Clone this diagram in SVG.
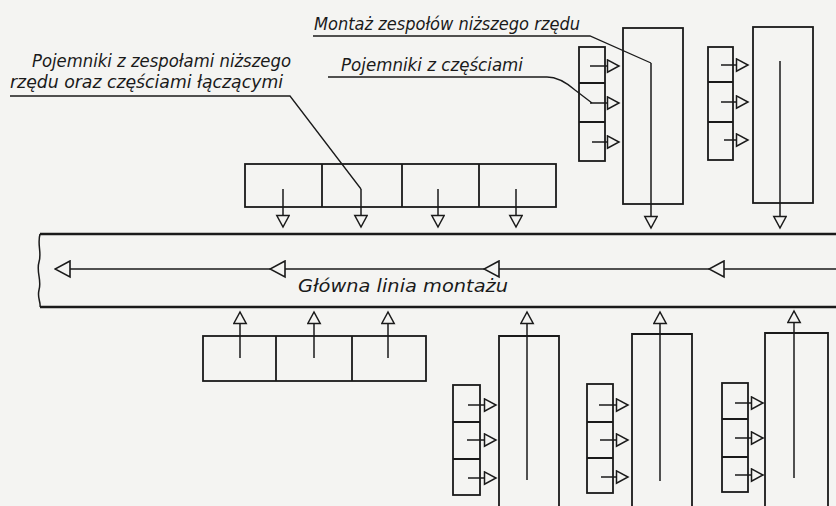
<svg xmlns="http://www.w3.org/2000/svg" width="836" height="506" viewBox="0 0 836 506">
<defs>
<marker id="tri" markerUnits="userSpaceOnUse" markerWidth="16" markerHeight="16" refX="13" refY="7" orient="auto">
<path d="M1.5,0.8 L13,7 L1.5,13.2 Z" fill="#f4f4f2" stroke="#1a1a1a" stroke-width="1.5"/>
</marker>
<marker id="triBig" markerUnits="userSpaceOnUse" markerWidth="20" markerHeight="20" refX="1" refY="9" orient="auto">
<path d="M16,1 L1,9 L16,17 Z" fill="#f4f4f2" stroke="#1a1a1a" stroke-width="1.6"/>
</marker>
</defs>
<style>
.box{fill:none;stroke:#1a1a1a;stroke-width:1.8}
.edge{fill:none;stroke:#1a1a1a;stroke-width:2.3}
.ln{fill:none;stroke:#1a1a1a;stroke-width:1.5}
.arr{fill:none;stroke:#1a1a1a;stroke-width:1.5;marker-end:url(#tri)}
.flow{fill:none;stroke:#1a1a1a;stroke-width:1.6;marker-start:url(#triBig)}
.lead{fill:none;stroke:#1a1a1a;stroke-width:1.3}
.lbl{font-family:"DejaVu Sans",sans-serif;font-style:italic;font-size:17px;fill:#1a1a1a}
</style>
<rect width="836" height="506" fill="#f4f4f2"/>

<g id="main-line">
<path class="edge" d="M836,234 H40 M836,307 H40"/>
<path class="ln" d="M40,234 C37,245 42,252 39,262 C36,272 42,280 39,290 C37,298 41,302 40,307" stroke-width="1"/>
<text class="lbl" x="298" y="292" textLength="210" lengthAdjust="spacingAndGlyphs">Główna linia montażu</text>
</g>

<g id="upper-containers">
<rect class="box" x="245" y="164" width="311" height="43"/>
<path class="box" d="M322,164 V207 M402,164 V207 M479,164 V207"/>
</g>

<g id="upper-assembly-1">
<rect class="box" x="623" y="28" width="60" height="176"/>
<rect class="box" x="579" y="47" width="26" height="114"/>
<path class="box" d="M579,83 H605 M579,122 H605"/>
</g>

<g id="upper-assembly-2">
<rect class="box" x="753" y="27" width="60" height="176"/>
<rect class="box" x="708" y="47" width="25" height="113"/>
<path class="box" d="M708,82 H733 M708,122 H733"/>
</g>

<g id="lower-containers">
<rect class="box" x="203" y="336" width="223" height="45"/>
<path class="box" d="M276,336 V381 M352,336 V381"/>
</g>

<g id="lower-assembly-1">
<path class="box" d="M499,510 V336 H559 V510"/>
<rect class="box" x="453" y="385" width="27" height="110"/>
<path class="box" d="M453,422 H480 M453,459 H480"/>
</g>

<g id="lower-assembly-2">
<path class="box" d="M632,510 V334 H692 V510"/>
<rect class="box" x="587" y="384" width="26" height="109"/>
<path class="box" d="M587,422 H613 M587,458 H613"/>
</g>

<g id="lower-assembly-3">
<path class="box" d="M765,510 V333 H828 V510"/>
<rect class="box" x="722" y="383" width="26" height="109"/>
<path class="box" d="M722,419 H748 M722,457 H748"/>
</g>

<g id="labels">
<text class="lbl" x="314" y="30" textLength="266" lengthAdjust="spacingAndGlyphs">Montaż zespołów niższego rzędu</text>
<text class="lbl" x="341" y="71" textLength="182" lengthAdjust="spacingAndGlyphs">Pojemniki z częściami</text>
<text class="lbl" x="32" y="67" textLength="259" lengthAdjust="spacingAndGlyphs">Pojemniki z zespołami niższego</text>
<text class="lbl" x="10" y="88" textLength="273" lengthAdjust="spacingAndGlyphs">rzędu oraz częściami łączącymi</text>
</g>

<g id="connectors">
<!-- main flow (arrowheads at segment start, pointing left) -->
<path class="flow" d="M55,269 H270"/>
<path class="flow" d="M270,269 H484"/>
<path class="flow" d="M484,269 H709"/>
<path class="flow" d="M709,269 H836"/>
<!-- upper containers down -->
<path class="arr" d="M283,189 V227"/>
<path class="arr" d="M361,189 V227"/>
<path class="arr" d="M438,189 V227"/>
<path class="arr" d="M516,189 V227"/>
<!-- upper assembly 1 -->
<path class="arr" d="M651,63 V228"/>
<path class="arr" d="M590,66 H619"/>
<path class="arr" d="M590,103 H619"/>
<path class="arr" d="M592,142 H619"/>
<!-- upper assembly 2 -->
<path class="arr" d="M780,61 V228"/>
<path class="arr" d="M721,65 H748"/>
<path class="arr" d="M721,102 H748"/>
<path class="arr" d="M724,140 H748"/>
<!-- lower containers up -->
<path class="arr" d="M240,358 V312"/>
<path class="arr" d="M314,358 V312"/>
<path class="arr" d="M388,358 V312"/>
<!-- lower assemblies -->
<path class="arr" d="M527,480 V312"/>
<path class="arr" d="M468,405 H496"/>
<path class="arr" d="M467,440 H496"/>
<path class="arr" d="M468,478 H496"/>
<path class="arr" d="M660,481 V312"/>
<path class="arr" d="M599,405 H628"/>
<path class="arr" d="M600,440 H628"/>
<path class="arr" d="M601,477 H628"/>
<path class="arr" d="M794,478 V311"/>
<path class="arr" d="M735,403 H763"/>
<path class="arr" d="M735,438 H763"/>
<path class="arr" d="M735,475 H763"/>
<!-- leader lines -->
<path class="lead" d="M10,96 H290 L361,189"/>
<path class="lead" d="M313,36 H590 L651,63"/>
<path class="lead" d="M328,77 H547 Q560,77 575,90 L592,103"/>
</g>
</svg>
